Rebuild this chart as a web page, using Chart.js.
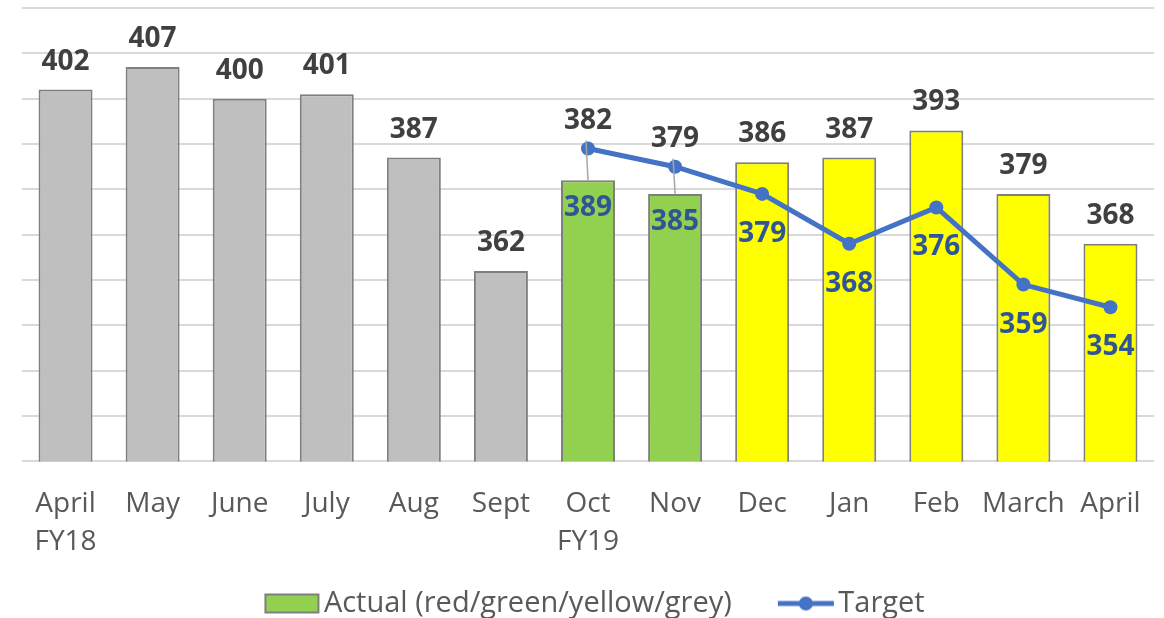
<!DOCTYPE html>
<html>
<head>
<meta charset="utf-8">
<script src="https://cdn.jsdelivr.net/npm/chart.js@4/dist/chart.umd.min.js"></script>
<style>
  html, body { margin: 0; padding: 0; background: #fff; overflow: hidden; }
  #wrap { width: 1164px; height: 640px; }
</style>
</head>
<body>
<div id="wrap"><canvas id="chart" width="1164" height="640"></canvas></div>
<script>
var months = [["April", "FY18"], "May", "June", "July", "Aug", "Sept", ["Oct", "FY19"], "Nov", "Dec", "Jan", "Feb", "March", "April"];
var actual = [402, 407, 400, 401, 387, 362, 382, 379, 386, 387, 393, 379, 368];
var target = [null, null, null, null, null, null, 389, 385, 379, 368, 376, 359, 354];
var barStatus = ["grey", "grey", "grey", "grey", "grey", "grey", "green", "green", "yellow", "yellow", "yellow", "yellow", "yellow"];

var statusColors = { grey: "#BFBFBF", green: "#92D050", yellow: "#FFFF00", red: "#FF0000" };
var FONT = "'Open Sans', 'Noto Sans', sans-serif";

// legend swatches: drawn at the right end of a wide image so the text sits close
var makeSwatch = function(kind) {
  var c = document.createElement('canvas');
  c.width = 102; c.height = 22;
  var g = c.getContext('2d');
  if (kind == 'bar') {
    g.fillStyle = "#92D050";
    g.fillRect(47, 2, 53, 18);
    g.strokeStyle = "#7F7F7F";
    g.lineWidth = 2;
    g.strokeRect(47, 2, 53, 18);
  } else {
    g.strokeStyle = "#4472C4";
    g.lineWidth = 5;
    g.beginPath(); g.moveTo(45, 11); g.lineTo(101, 11); g.stroke();
    g.fillStyle = "#4472C4";
    g.beginPath(); g.arc(73, 11, 7, 0, Math.PI * 2); g.fill();
  }
  return c;
};

// data labels + leader lines
var labelPlugin = {
  id: 'valueLabels',
  afterDatasetsDraw: function(chart) {
    var ctx = chart.ctx;
    var bars = chart.getDatasetMeta(0).data;
    var pts = chart.getDatasetMeta(1).data;
    ctx.save();
    ctx.textAlign = 'center';
    ctx.textBaseline = 'alphabetic';
    ctx.font = "bold 28px " + FONT;
    bars.forEach(function(bar, i) {
      var top = bar.y;
      var hasPt = target[i] !== null;
      var py = hasPt ? pts[i].y : Infinity;
      var bottom = Math.min(top, py) - 20;
      if (hasPt && py < top) {
        ctx.strokeStyle = "#A6A6A6";
        ctx.lineWidth = 1.5;
        ctx.beginPath();
        ctx.moveTo(bar.x - 2, bottom + 12);
        ctx.lineTo(bar.x, top);
        ctx.stroke();
      }
      ctx.fillStyle = "#404040";
      ctx.fillText(actual[i], bar.x, bottom);
    });
    ctx.textBaseline = 'middle';
    ctx.fillStyle = "#2F5597";
    pts.forEach(function(p, i) {
      if (target[i] === null) return;
      var cy = Math.max(p.y + 40, bars[i].y + 28);
      ctx.fillText(target[i], p.x, cy);
    });
    ctx.restore();
  }
};

new Chart(document.getElementById('chart'), {
  type: 'bar',
  data: {
    labels: months,
    datasets: [{
      label: 'Actual (red/green/yellow/grey)',
      data: actual,
      backgroundColor: barStatus.map(function(s) { return statusColors[s]; }),
      borderColor: "#7F7F7F",
      borderWidth: 2,
      categoryPercentage: 1,
      barPercentage: 0.62,
      order: 2
    }, {
      type: 'line',
      label: 'Target',
      data: target,
      borderColor: "#4472C4",
      backgroundColor: "#4472C4",
      borderWidth: 5,
      pointRadius: 7,
      pointHoverRadius: 7,
      pointBorderWidth: 0,
      tension: 0,
      order: 1
    }]
  },
  options: {
    responsive: false,
    animation: false,
    layout: { padding: { left: 0, right: 10, top: 8, bottom: 12 } },
    plugins: {
      tooltip: { enabled: false },
      legend: {
        position: 'bottom',
        labels: {
          usePointStyle: true,
          pointStyleWidth: 80,
          padding: 12,
          color: "#595959",
          font: { family: FONT, size: 29 },
          generateLabels: function(chart) {
            return [
              { text: 'Actual (red/green/yellow/grey)', pointStyle: makeSwatch('bar'), fontColor: "#595959", lineWidth: 0, datasetIndex: 0 },
              { text: 'Target', pointStyle: makeSwatch('line'), fontColor: "#595959", lineWidth: 0, datasetIndex: 1 }
            ];
          }
        }
      }
    },
    scales: {
      x: {
        grid: { display: false },
        border: { display: false },
        ticks: {
          color: "#595959",
          font: { family: FONT, size: 28, lineHeight: 1.35 },
          padding: 16,
          maxRotation: 0,
          autoSkip: false
        }
      },
      y: {
        min: 320,
        max: 420,
        ticks: { stepSize: 10, display: false },
        border: { display: false },
        grid: { color: "#D9D9D9", lineWidth: 2, drawTicks: false },
        afterFit: function(scale) { scale.width = 22; }
      }
    }
  },
  plugins: [labelPlugin]
});
</script>
</body>
</html>
